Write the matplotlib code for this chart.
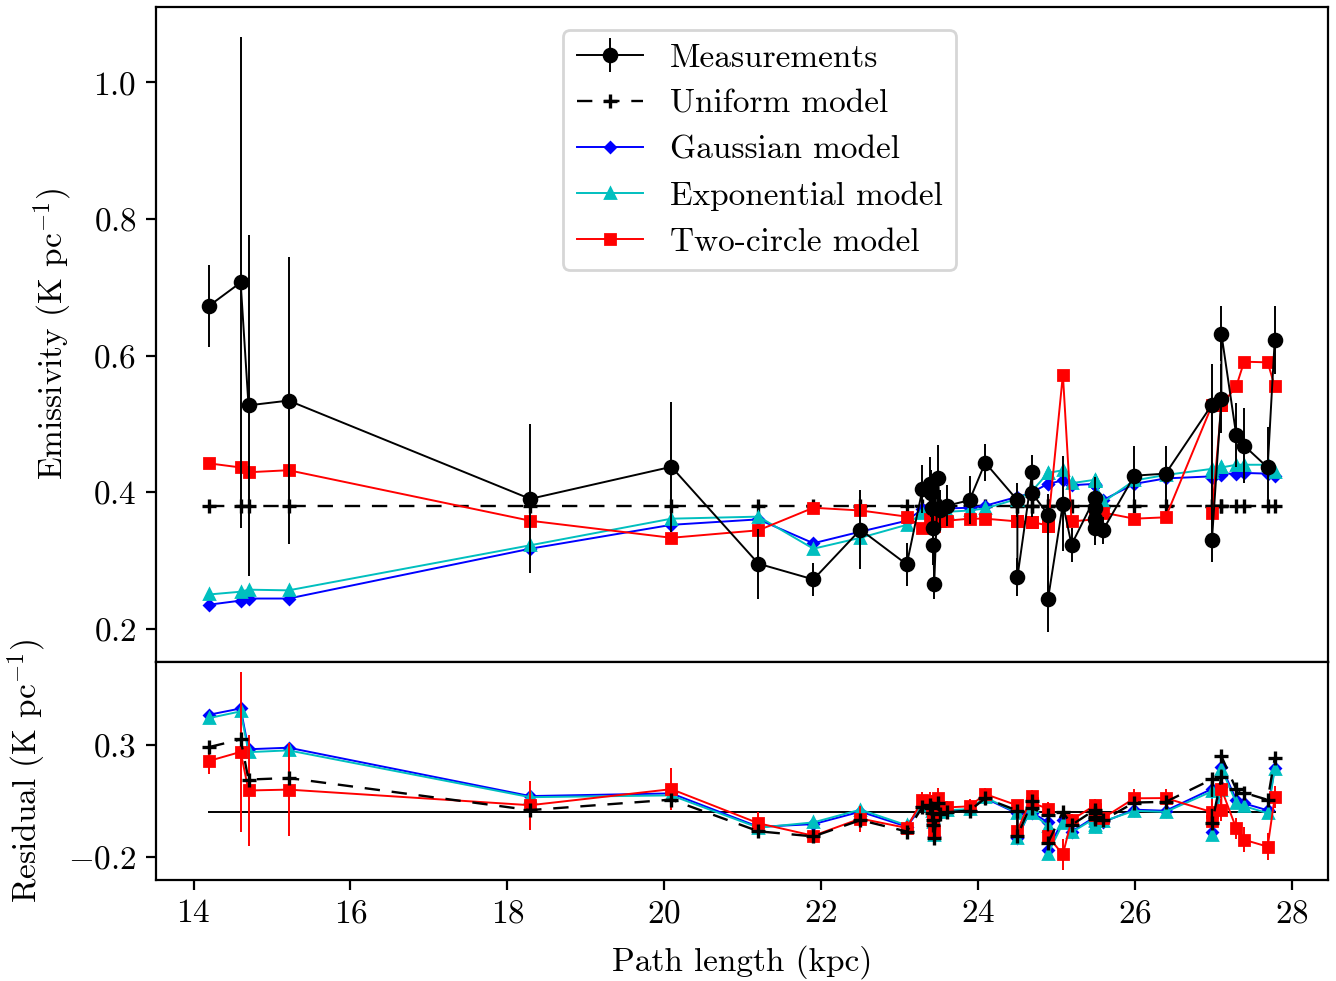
import numpy as np
import matplotlib
matplotlib.use('Agg')
import matplotlib.pyplot as plt

plt.rcParams['font.family'] = 'serif'
plt.rcParams['font.serif'] = ['cmr10']
plt.rcParams['mathtext.fontset'] = 'cm'
plt.rcParams['axes.formatter.use_mathtext'] = True
plt.rcParams['font.size'] = 12
plt.rcParams['axes.unicode_minus'] = True

path_length = [14.20, 14.60, 14.70, 15.21, 18.29, 20.09, 21.20, 21.90, 22.50, 23.09,
               23.29, 23.39, 23.40, 23.41, 23.42, 23.43, 23.44, 23.49, 23.51, 23.60,
               23.89, 24.09, 24.50, 24.50, 24.69, 24.69, 24.89, 24.89, 25.08, 25.19,
               25.49, 25.49, 25.49, 25.49, 25.59, 25.99, 26.39, 26.98, 26.98, 27.10,
               27.10, 27.29, 27.39, 27.69, 27.78]
measured = [0.673, 0.707, 0.527, 0.534, 0.390, 0.437, 0.295, 0.272, 0.345, 0.294,
            0.404, 0.412, 0.398, 0.377, 0.347, 0.323, 0.266, 0.421, 0.373, 0.380,
            0.388, 0.443, 0.388, 0.275, 0.430, 0.398, 0.367, 0.243, 0.383, 0.323,
            0.392, 0.377, 0.361, 0.348, 0.344, 0.424, 0.427, 0.528, 0.330, 0.537,
            0.632, 0.483, 0.468, 0.436, 0.623]
meas_err = [0.060, 0.360, 0.250, 0.210, 0.109, 0.095, 0.051, 0.024, 0.058, 0.032,
            0.035, 0.040, 0.035, 0.030, 0.035, 0.030, 0.022, 0.048, 0.030, 0.030,
            0.035, 0.027, 0.025, 0.028, 0.025, 0.035, 0.030, 0.048, 0.070, 0.025,
            0.030, 0.030, 0.030, 0.025, 0.020, 0.043, 0.040, 0.060, 0.032, 0.050,
            0.040, 0.047, 0.055, 0.060, 0.050]
uniform_model = [0.380] * len(path_length)
gaussian_model = [0.235, 0.241, 0.244, 0.244, 0.317, 0.352, 0.360, 0.325, 0.342, 0.358,
                  0.375, 0.378, 0.376, 0.376, 0.375, 0.374, 0.373, 0.378, 0.377, 0.376,
                  0.377, 0.380, 0.393, 0.392, 0.400, 0.400, 0.412, 0.412, 0.417, 0.410,
                  0.412, 0.411, 0.410, 0.410, 0.388, 0.412, 0.420, 0.423, 0.420, 0.425,
                  0.427, 0.427, 0.428, 0.427, 0.423]
exponential_model = [0.250, 0.254, 0.257, 0.256, 0.322, 0.361, 0.364, 0.317, 0.333, 0.352,
                     0.370, 0.372, 0.370, 0.370, 0.368, 0.367, 0.366, 0.373, 0.372, 0.371,
                     0.373, 0.376, 0.390, 0.389, 0.402, 0.402, 0.428, 0.428, 0.432, 0.413,
                     0.418, 0.417, 0.416, 0.416, 0.385, 0.417, 0.425, 0.434, 0.430, 0.436,
                     0.436, 0.440, 0.440, 0.440, 0.429]
two_circle_model = [0.442, 0.436, 0.429, 0.432, 0.358, 0.333, 0.344, 0.377, 0.373, 0.364,
                    0.348, 0.361, 0.355, 0.356, 0.350, 0.352, 0.350, 0.358, 0.357, 0.358,
                    0.361, 0.361, 0.357, 0.357, 0.356, 0.356, 0.351, 0.351, 0.572, 0.357,
                    0.360, 0.360, 0.360, 0.360, 0.370, 0.361, 0.363, 0.527, 0.370, 0.527,
                    0.527, 0.555, 0.591, 0.590, 0.555]

x = np.array(path_length)
y = np.array(measured)
e = np.array(meas_err)
mu = np.array(uniform_model)
mg = np.array(gaussian_model)
me = np.array(exponential_model)
mt = np.array(two_circle_model)

fig = plt.figure(figsize=(6.68, 4.905), dpi=200)
gs = fig.add_gridspec(2, 1, height_ratios=[3, 1], hspace=0,
                      left=156/1336, right=1328/1336, top=1-7/981, bottom=1-880/981)
ax = fig.add_subplot(gs[0])
axr = fig.add_subplot(gs[1], sharex=ax)

lw = 0.7
hu, = ax.plot(x, mu, color='k', ls=(0, (6.5, 5)), lw=0.85, marker='+', ms=5, mew=1.2,
              label='Uniform model', zorder=2)
hg, = ax.plot(x, mg, color='b', lw=lw, marker='D', ms=2.6, label='Gaussian model', zorder=2)
he, = ax.plot(x, me, color='c', lw=lw, marker='^', ms=3.6, label='Exponential model', zorder=2)
ht, = ax.plot(x, mt, color='r', lw=lw, marker='s', ms=3.4, label='Two-circle model', zorder=2)
hm = ax.errorbar(x, y, yerr=e, color='k', lw=lw, elinewidth=lw, marker='o', ms=4.6,
                 label='Measurements', zorder=3)

ax.set_ylabel('Emissivity (K pc$^{-1}$)', labelpad=7)
ax.tick_params(axis='x', bottom=False, labelbottom=False)
ax.set_yticks([0.2, 0.4, 0.6, 0.8, 1.0])
ax.legend(handles=[hm, hu, hg, he, ht], loc='upper center',
          bbox_to_anchor=(0.515, 0.965), borderaxespad=0)

axr.plot([x.min(), x.max()], [0, 0], color='k', lw=lw, zorder=1)
axr.plot(x, y - mg, color='b', lw=lw, marker='D', ms=2.6, zorder=2)
axr.plot(x, y - me, color='c', lw=lw, marker='^', ms=3.6, zorder=2)
axr.errorbar(x, y - mt, yerr=e, color='r', lw=lw, elinewidth=lw, marker='s', ms=3.4, zorder=3)
axr.plot(x, y - mu, color='k', ls=(0, (6.5, 5)), lw=0.85, marker='+', ms=5, mew=1.2, zorder=4)
axr.set_yticks([-0.2, 0.3])
axr.set_ylabel('Residual (K pc$^{-1}$)', labelpad=7)
axr.set_xlabel('Path length (kpc)', labelpad=6)
axr.set_xticks([14, 16, 18, 20, 22, 24, 26, 28])

fig.savefig('out.png', dpi=200)
